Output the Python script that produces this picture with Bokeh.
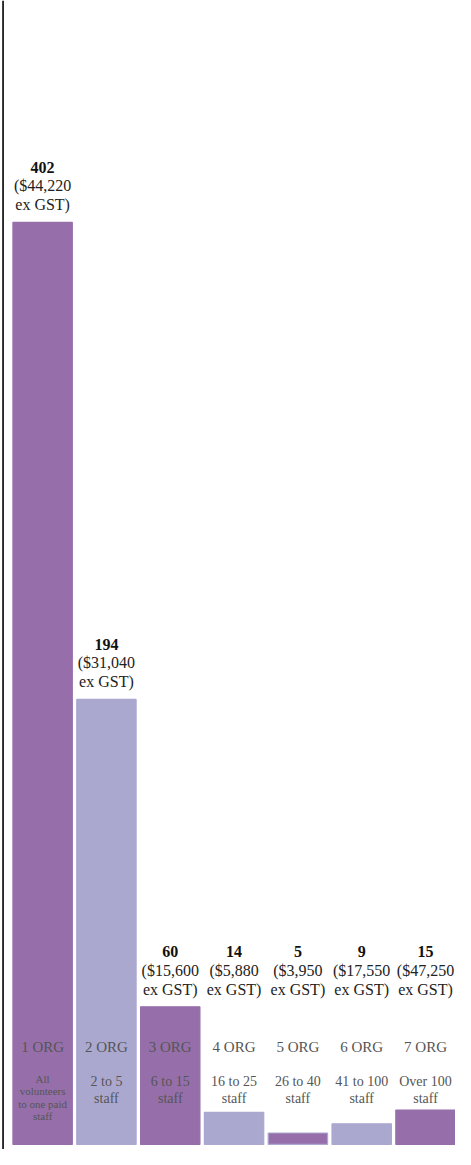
from bokeh.plotting import figure
from bokeh.models import ColumnDataSource, Range1d, Span
from bokeh.core.properties import value
from bokeh.embed import file_html
from bokeh.resources import INLINE

# ---- data ----
org_labels = ["1 ORG", "2 ORG", "3 ORG", "4 ORG", "5 ORG", "6 ORG", "7 ORG"]
counts = [402, 194, 60, 14, 5, 9, 15]
prices = ["$44,220", "$31,040", "$15,600", "$5,880", "$3,950", "$17,550", "$47,250"]
size_labels = [
    ["All", "volunteers", "to one paid", "staff"],
    ["2 to 5", "staff"],
    ["6 to 15", "staff"],
    ["16 to 25", "staff"],
    ["26 to 40", "staff"],
    ["41 to 100", "staff"],
    ["Over 100", "staff"],
]
LABEL_FLOOR = 60  # labels of small bars sit at this level

PURPLE = "#966faa"
LAVENDER = "#aba8d0"
FONT = "Liberation Serif"

n = len(counts)
xs = list(range(n))
fills = [PURPLE if i % 2 == 0 else LAVENDER for i in xs]
lines = [LAVENDER if (fills[i] == PURPLE and counts[i] < 10) else fills[i] for i in xs]

p = figure(width=455, height=1149, x_range=Range1d(-0.66, 6.47), y_range=Range1d(-2.2, 498.7),
           output_backend="svg", toolbar_location=None, min_border=0)
p.axis.visible = False
p.grid.visible = False
p.outline_line_color = None
p.background_fill_color = "white"
p.border_fill_color = "white"

src = ColumnDataSource(dict(x=xs, top=counts, fill=fills, line=lines))
p.vbar(x="x", top="top", bottom=0, width=0.93, fill_color="fill", line_color="line", line_width=1.2, source=src)

p.add_layout(Span(location=-0.62, dimension="height", line_color="black", line_width=1.6))

# value labels above bars
lab_y = [max(c, LABEL_FLOOR) for c in counts]
num_src = ColumnDataSource(dict(x=xs, y=lab_y, t=[str(c) for c in counts]))
p.text(x="x", y="y", text="t", source=num_src, y_offset=-55, text_align="center", text_baseline="middle",
       text_font=value(FONT), text_font_size="16px", text_font_style="bold", text_color="#111111")
pr_src = ColumnDataSource(dict(x=xs, y=lab_y, t=["(" + s for s in prices]))
p.text(x="x", y="y", text="t", source=pr_src, y_offset=-36.5, text_align="center", text_baseline="middle",
       text_font=value(FONT), text_font_size="16px", text_color="#222222")
ex_src = ColumnDataSource(dict(x=xs, y=lab_y, t=["ex GST)"] * n))
p.text(x="x", y="y", text="t", source=ex_src, y_offset=-17.5, text_align="center", text_baseline="middle",
       text_font=value(FONT), text_font_size="16px", text_color="#222222")

# org labels inside bars
org_src = ColumnDataSource(dict(x=xs, y=[0] * n, t=org_labels))
p.text(x="x", y="y", text="t", source=org_src, y_offset=-97, text_align="center", text_baseline="middle",
       text_font=value(FONT), text_font_size="15px", text_color="#555555")

# size labels
sx, sy, st, so, ss = [], [], [], [], []
for i, lines_i in enumerate(size_labels):
    k = len(lines_i)
    if k > 2:
        step, centre, fs = 12.6, -47, "11px"
    else:
        step, centre, fs = 17, -54, "14px"
    for j, s in enumerate(lines_i):
        sx.append(i)
        sy.append(0)
        st.append(s)
        so.append(centre + (j - (k - 1) / 2) * step)
        ss.append(fs)
sz_src = ColumnDataSource(dict(x=sx, y=sy, t=st, o=so, s=ss))
p.text(x="x", y="y", text="t", source=sz_src, y_offset="o", text_align="center", text_baseline="middle",
       text_font=value(FONT), text_font_size="s", text_color="#555555")

open("out.html", "w").write(file_html(p, INLINE))
